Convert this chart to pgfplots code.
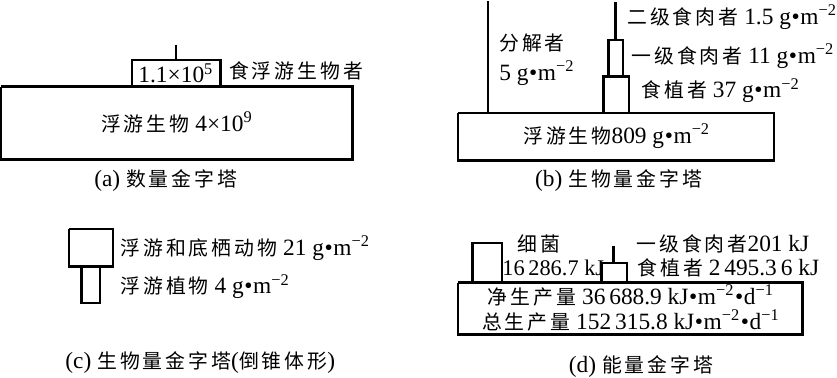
\documentclass[border=0pt]{standalone}
\usepackage{fontspec}
\usepackage{pgfplots}
\pgfplotsset{compat=1.18}
\setmainfont{Liberation Serif}
\newfontfamily\cjk{Noto Sans CJK SC}[Scale=0.85,LetterSpace=15]
\newcommand\zh[1]{{\cjk #1}}
\newcommand\dt{\kern0.3pt•\kern0.3pt}
\newcommand\gm{g\dt m\textsuperscript{−2}}

\begin{document}
\begin{tikzpicture}
\begin{axis}[scale only axis,width=418.5pt,height=188.5pt,
  xmin=0,xmax=837,ymin=0,ymax=377,y dir=reverse,
  axis lines=none,clip=false,
  box/.style={black,solid,line width=1.2pt,line join=miter,mark=none},
  nodes={font=\fontsize{11.5}{14}\selectfont,inner sep=0pt}]
% (a) 数量金字塔
\addplot[box] coordinates {(12,93)(358,93)(358,165)(12,165)(12,93)};
\addplot[box] coordinates {(141,93)(141,67)(228,67)(228,93)};
\addplot[box] coordinates {(184,52)(184,67)};
\node at (axis cs:184,80) {1.1×10\textsuperscript{5}};
\node[anchor=west] at (axis cs:236,78) {\zh{食浮游生物者}};
\node at (axis cs:185,128) {\zh{浮游生物} 4×10\textsuperscript{9}};
\node at (axis cs:174,186) {(a) \zh{数量金字塔}};
% (b) 生物量金字塔
\addplot[box] coordinates {(462,119)(773,119)(773,166)(462,166)(462,119)};
\addplot[box] coordinates {(491,9)(491,119)};
\addplot[box] coordinates {(605,119)(605,83)(630,83)(630,119)};
\addplot[box] coordinates {(610,83)(610,47)(624,47)(624,83)};
\addplot[box] coordinates {(617,10)(617,47)};
\node[anchor=west] at (axis cs:628,25) {\zh{二级食肉者} 1.5 \gm};
\node[anchor=west] at (axis cs:632,63) {\zh{一级食肉者} 11 \gm};
\node[anchor=west] at (axis cs:642,97) {\zh{食植者} 37 \gm};
\node[anchor=west] at (axis cs:502,50) {\zh{分解者}};
\node[anchor=west] at (axis cs:502,80) {5 \gm};
\node at (axis cs:618,142) {\zh{浮游生物}809 \gm};
\node at (axis cs:620,186) {(b) \zh{生物量金字塔}};
% (c) 生物量金字塔(倒锥体形)
\addplot[box] coordinates {(79,233)(122,233)(122,270)(79,270)(79,233)};
\addplot[box] coordinates {(91,270)(91,306)(109,306)(109,270)};
\node[anchor=west] at (axis cs:129,252) {\zh{浮游和底栖动物} 21 \gm};
\node[anchor=west] at (axis cs:129,290) {\zh{浮游植物} 4 \gm};
\node at (axis cs:208,365) {(c) \zh{生物量金字塔}(\zh{倒锥体形})};
% (d) 能量金字塔
\addplot[box] coordinates {(462,286)(801,286)(801,337)(462,337)(462,286)};
\addplot[box] coordinates {(476,286)(476,247)(505,247)(505,286)};
\addplot[box] coordinates {(603,286)(603,267)(628,267)(628,286)};
\addplot[box] coordinates {(615,250)(615,267)};
\node[anchor=west] at (axis cs:520,248) {\zh{细菌}};
\node[anchor=west,font=\fontsize{11}{13}\selectfont] at (axis cs:505,272) {16\,286.7 kJ};
\node[anchor=west] at (axis cs:637,248) {\zh{一级食肉者}201 kJ};
\node[anchor=west] at (axis cs:638,272) {\zh{食植者} 2\,495.3\,6 kJ};
\node at (axis cs:632,299) {\zh{净生产量} 36\,688.9 kJ\dt m\textsuperscript{−2}\dt d\textsuperscript{−1}};
\node at (axis cs:632,323) {\zh{总生产量} 152\,315.8 kJ\dt m\textsuperscript{−2}\dt d\textsuperscript{−1}};
\node at (axis cs:642,369) {(d) \zh{能量金字塔}};
\end{axis}
\end{tikzpicture}
\end{document}
